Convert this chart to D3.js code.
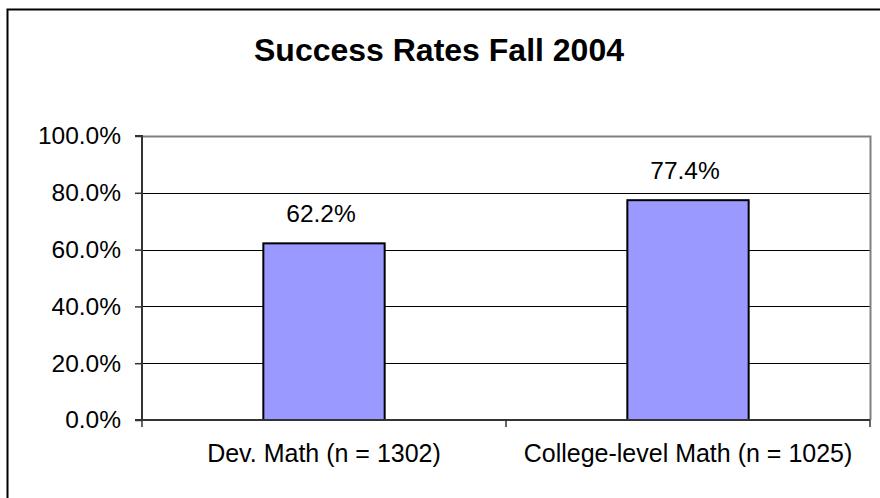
<!DOCTYPE html>
<html>
<head>
<meta charset="utf-8">
<script src="https://cdn.jsdelivr.net/npm/d3@7/dist/d3.min.js"></script>
<style>
  html, body { margin: 0; padding: 0; background: #fff; }
  svg { display: block; font-family: "Liberation Sans", Arial, sans-serif; }
</style>
</head>
<body>
<svg id="chart" width="880" height="498"></svg>
<script>
// Chart data
const categories = ["Dev. Math (n = 1302)", "College-level Math (n = 1025)"];
const successRates = [62.2, 77.4];
const yTicks = [0, 20, 40, 60, 80, 100];
const titleText = "Success Rates Fall 2004";

const svg = d3.select("#chart");
const W = 880, H = 498;
const plot = { left: 142, right: 870, top: 136, bottom: 420 };

// Outer chart frame (extends past right and bottom edges)
svg.append("rect")
  .attr("x", 7.5).attr("y", 9.5)
  .attr("width", W).attr("height", H)
  .attr("fill", "#fff")
  .attr("stroke", "#000").attr("stroke-width", 2);

// Title
svg.append("text")
  .attr("x", 439).attr("y", 61)
  .attr("text-anchor", "middle")
  .attr("font-size", 32).attr("font-weight", "bold")
  .attr("fill", "#000")
  .text(titleText);

// Scales
const x = d3.scaleBand()
  .domain(categories)
  .range([plot.left, plot.right])
  .padding(0);

const y = d3.scaleLinear()
  .domain([0, 100])
  .range([plot.bottom, plot.top]);

const barWidth = x.bandwidth() / 3;

// Horizontal gridlines
svg.append("g")
  .selectAll("line")
  .data(yTicks.filter(t => t > 0 && t < 100))
  .join("line")
  .attr("x1", plot.left).attr("x2", plot.right)
  .attr("y1", d => Math.round(y(d)) + 0.5)
  .attr("y2", d => Math.round(y(d)) + 0.5)
  .attr("stroke", "#000").attr("stroke-width", 1);

// Plot area border (top and right, grey)
svg.append("path")
  .attr("d", `M${plot.left},${plot.top + 0.5}H${plot.right + 0.5}V${plot.bottom}`)
  .attr("fill", "none")
  .attr("stroke", "#808080").attr("stroke-width", 2);

// Bars
svg.append("g")
  .selectAll("rect")
  .data(successRates)
  .join("rect")
  .attr("x", (d, i) => x(categories[i]) + (x.bandwidth() - barWidth) / 2)
  .attr("y", d => y(d))
  .attr("width", barWidth)
  .attr("height", d => y(0) - y(d))
  .attr("fill", "#9999FF")
  .attr("stroke", "#000").attr("stroke-width", 2);

// Value labels
svg.append("g")
  .selectAll("text")
  .data(successRates)
  .join("text")
  .attr("x", (d, i) => x(categories[i]) + x.bandwidth() / 2 - 3)
  .attr("y", d => y(d) - 21)
  .attr("text-anchor", "middle")
  .attr("font-size", 24.5)
  .attr("fill", "#000")
  .text(d => d.toFixed(1) + "%");

// Y axis
const yAxis = d3.axisLeft(y)
  .tickValues(yTicks)
  .tickSize(7)
  .tickPadding(14)
  .tickFormat(d => d.toFixed(1) + "%");

const gy = svg.append("g")
  .attr("transform", `translate(${plot.left},0)`)
  .call(yAxis);
gy.select(".domain").attr("stroke", "#333").attr("stroke-width", 2)
  .attr("d", `M-7,${plot.top}H0V${plot.bottom}H-7`);
gy.selectAll(".tick line").attr("stroke", "#333").attr("stroke-width", 1.5);
gy.selectAll(".tick text")
  .attr("font-size", 24.5)
  .attr("font-family", "Liberation Sans, Arial, sans-serif")
  .attr("fill", "#000");

// X axis: ticks sit at category boundaries
const xAxis = d3.axisBottom(x).tickSize(0).tickPadding(24);
const gx = svg.append("g")
  .attr("transform", `translate(0,${plot.bottom})`)
  .call(xAxis);
gx.select(".domain").attr("stroke", "#333").attr("stroke-width", 2)
  .attr("d", `M${plot.left},0H${plot.right}`);
gx.selectAll(".tick text")
  .attr("font-size", 25)
  .attr("font-family", "Liberation Sans, Arial, sans-serif")
  .attr("fill", "#000");

const boundaries = categories.map(c => x(c)).concat([x(categories[categories.length - 1]) + x.bandwidth()]);
gx.append("g")
  .selectAll("line")
  .data(boundaries)
  .join("line")
  .attr("x1", d => Math.round(d)).attr("x2", d => Math.round(d))
  .attr("y1", 0).attr("y2", 7)
  .attr("stroke", "#333").attr("stroke-width", 1.5);
</script>
</body>
</html>
